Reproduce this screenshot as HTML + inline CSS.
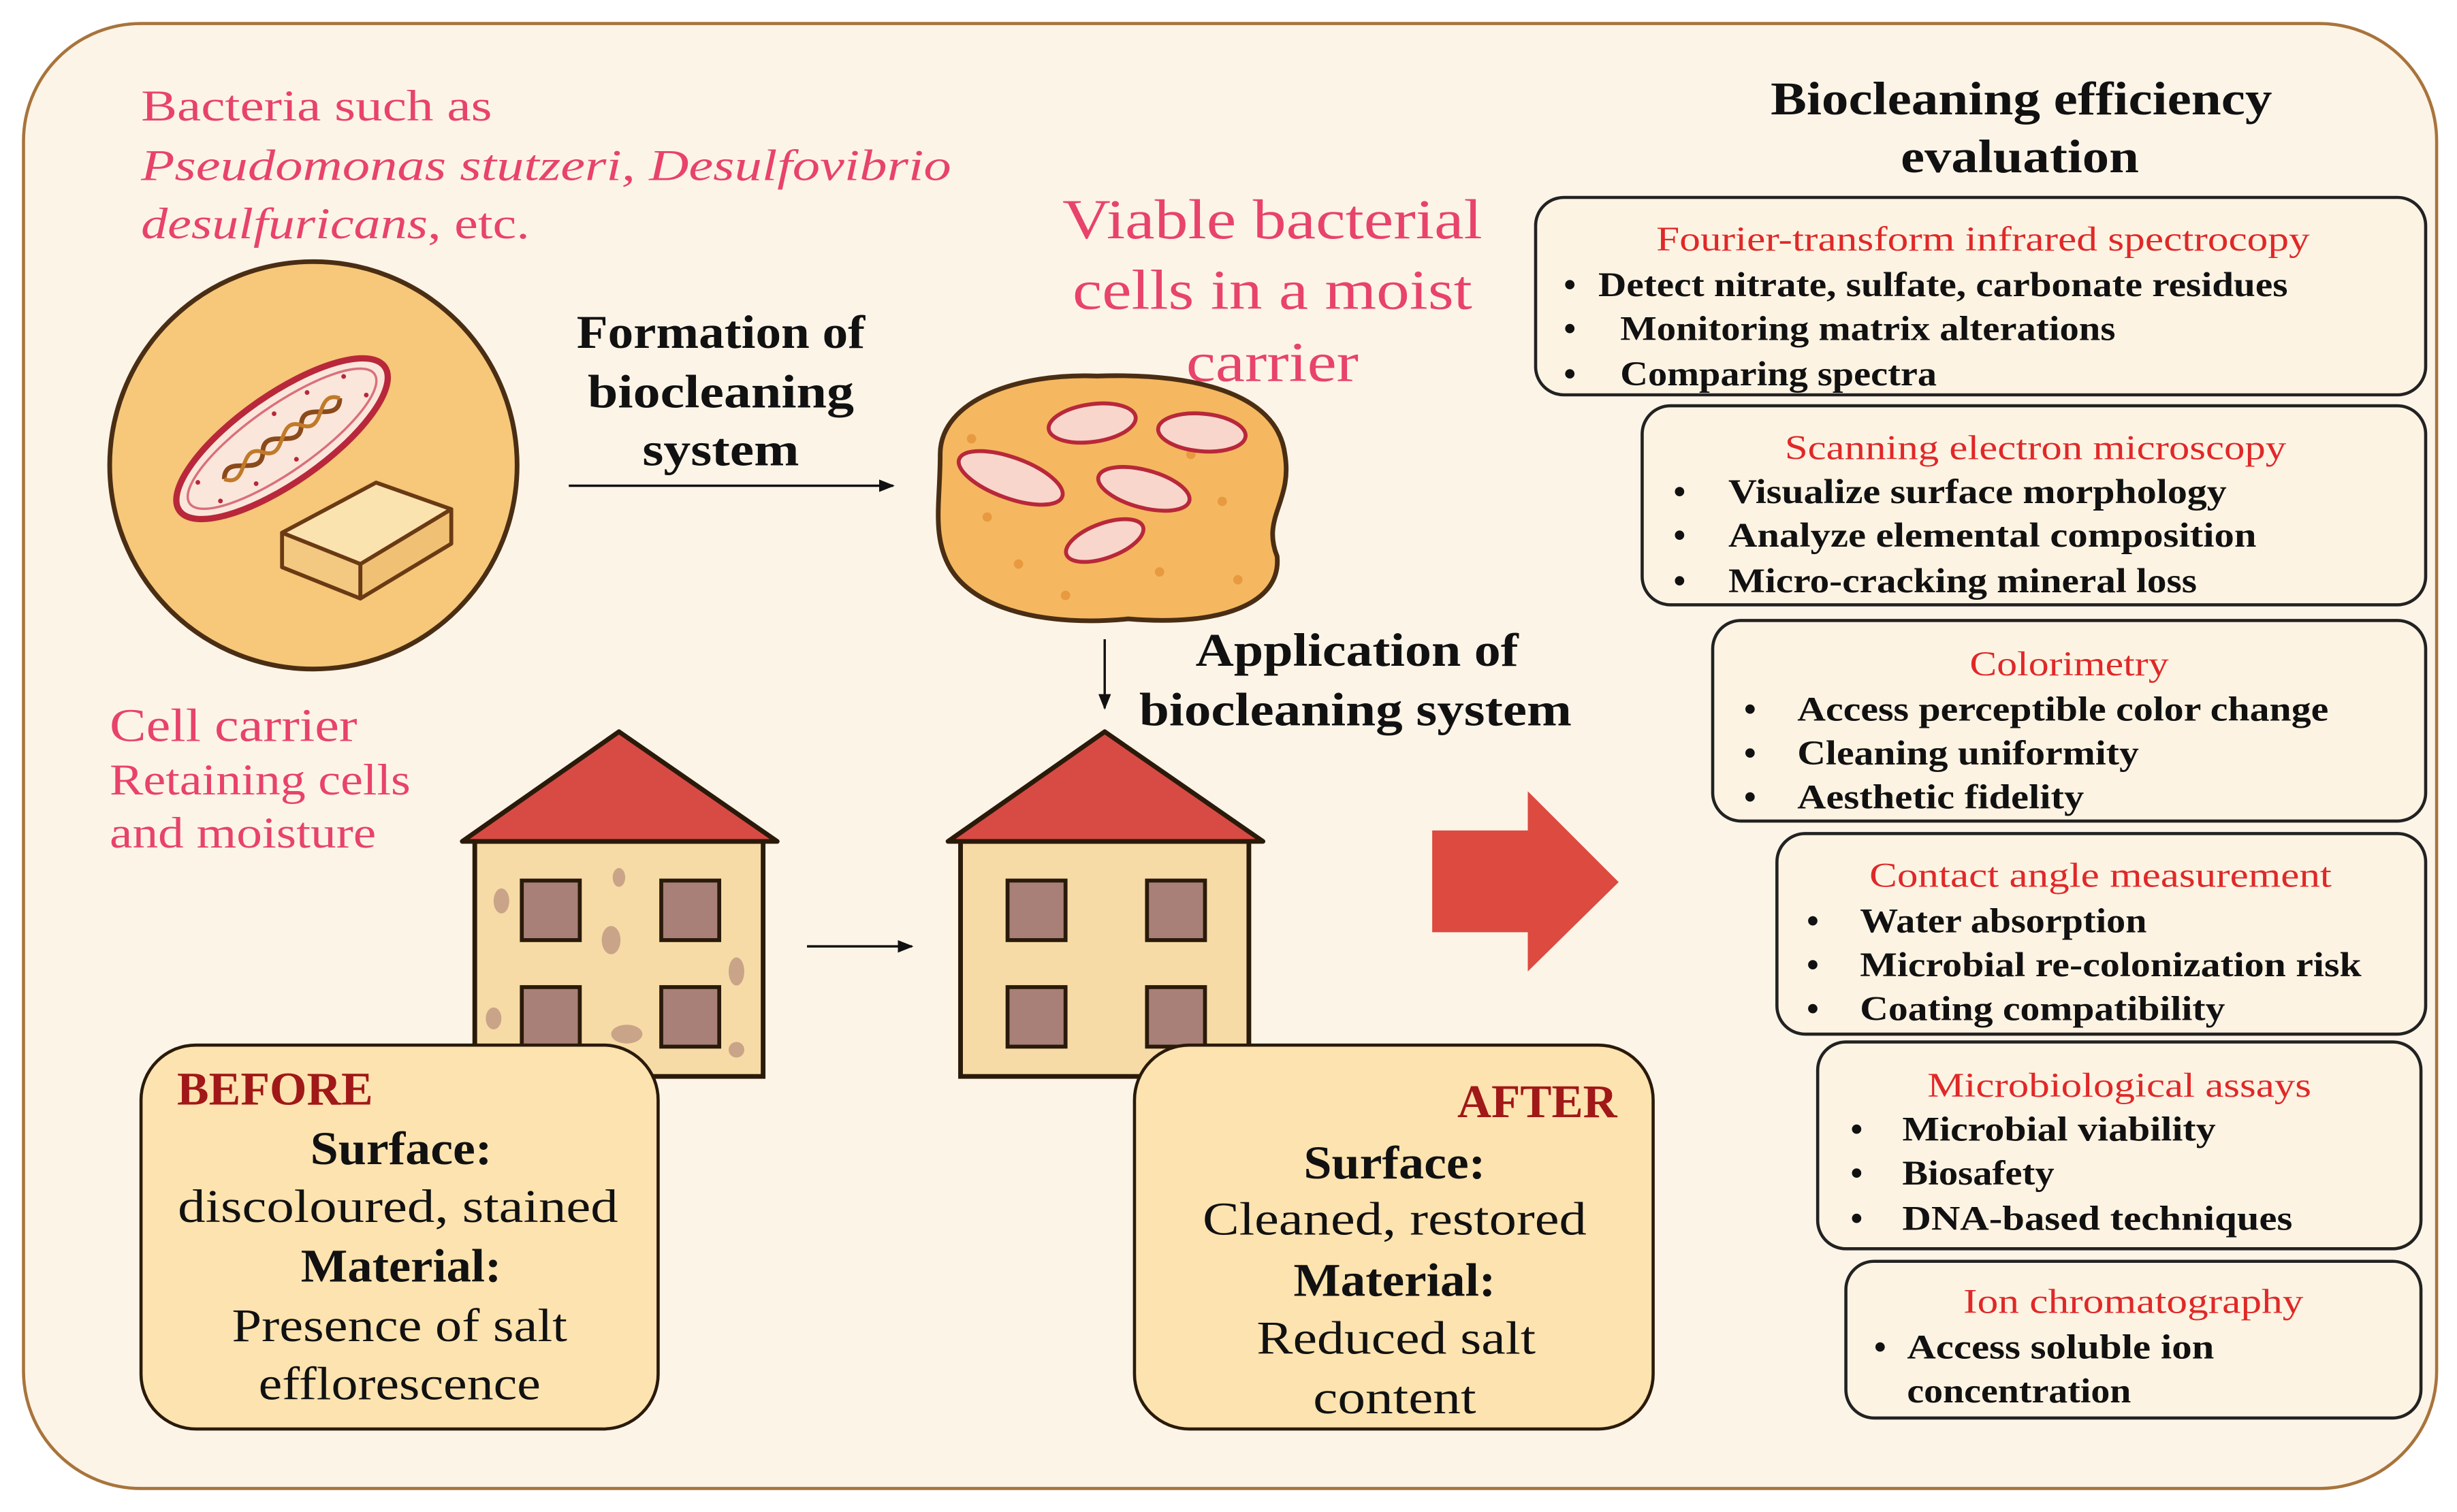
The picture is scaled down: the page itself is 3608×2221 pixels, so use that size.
<!DOCTYPE html>
<html><head><meta charset="utf-8"><style>
html,body{margin:0;padding:0;background:#fff;}
svg{display:block;}
text{font-family:"Liberation Serif","DejaVu Serif",serif;}
</style></head><body>
<svg width="3608" height="2221" viewBox="0 0 1568 965" preserveAspectRatio="none" xmlns="http://www.w3.org/2000/svg">
<defs>
<marker id="ah" markerWidth="10" markerHeight="10" refX="9" refY="5" orient="auto" markerUnits="userSpaceOnUse"><path d="M0,1 L10,5 L0,9 z" fill="#111"/></marker>
</defs>
<rect x="15" y="15" width="1540" height="935" rx="75" fill="#fdf4e8" stroke="#a8743c" stroke-width="2"/>

<g fill="#e8436a" font-size="28" lengthAdjust="spacingAndGlyphs">
<text x="90" y="77" textLength="224" lengthAdjust="spacingAndGlyphs">Bacteria such as</text>
<text x="90" y="115" font-style="italic" textLength="517" lengthAdjust="spacingAndGlyphs">Pseudomonas stutzeri, Desulfovibrio</text>
<text x="90" y="152" textLength="248" lengthAdjust="spacingAndGlyphs"><tspan font-style="italic">desulfuricans</tspan>, etc.</text>
</g>

<circle cx="200" cy="297" r="130" fill="#f7c77a" stroke="#4a2e14" stroke-width="3"/>
<g transform="translate(180,280) rotate(-35)">
<ellipse cx="0" cy="0" rx="80" ry="28" fill="#fbe6dc" stroke="#b8283a" stroke-width="4"/>
<ellipse cx="0" cy="0" rx="72" ry="21" fill="none" stroke="#d9707a" stroke-width="1.5"/>
<path d="M-45,0 C-35,-14 -25,14 -15,0 C-5,-14 5,14 15,0 C25,-14 35,14 45,0" fill="none" stroke="#8a4a1a" stroke-width="3"/>
<path d="M-45,0 C-35,14 -25,-14 -15,0 C-5,14 5,-14 15,0 C25,14 35,-14 45,0" fill="none" stroke="#c07a2a" stroke-width="2.5"/>
<g fill="#b8283a"><circle cx="-60" cy="-8" r="1.5"/><circle cx="-55" cy="10" r="1.5"/><circle cx="55" cy="-10" r="1.5"/><circle cx="60" cy="8" r="1.5"/><circle cx="-30" cy="14" r="1.5"/><circle cx="30" cy="-15" r="1.5"/><circle cx="0" cy="16" r="1.5"/><circle cx="5" cy="-16" r="1.5"/></g>
</g>
<g stroke="#6a3a14" stroke-width="2.5" stroke-linejoin="round">
<polygon points="180,340 240,308 288,325 230,360" fill="#fbe3b0"/>
<polygon points="180,340 230,360 230,382 180,362" fill="#f3c880"/>
<polygon points="230,360 288,325 288,347 230,382" fill="#f0c074"/>
</g>

<g font-size="30" text-anchor="middle" fill="#111" font-weight="bold">
<text x="460" y="222" textLength="184" lengthAdjust="spacingAndGlyphs">Formation of</text>
<text x="460" y="260" textLength="170" lengthAdjust="spacingAndGlyphs">biocleaning</text>
<text x="460" y="297" textLength="100" lengthAdjust="spacingAndGlyphs">system</text>
</g>
<line x1="363" y1="310" x2="570" y2="310" stroke="#111" stroke-width="1.5" marker-end="url(#ah)"/>

<g font-size="36" text-anchor="middle" fill="#e8436a">
<text x="812" y="152" textLength="268" lengthAdjust="spacingAndGlyphs">Viable bacterial</text>
<text x="812" y="197" textLength="255" lengthAdjust="spacingAndGlyphs">cells in a moist</text>
<text x="812" y="243" textLength="110" lengthAdjust="spacingAndGlyphs">carrier</text>
</g>

<path d="M600,290 C600,255 650,238 700,240 C760,238 815,250 820,290 C825,320 805,330 815,355 C818,385 780,400 720,395 C670,400 620,390 605,360 C595,340 600,320 600,290 Z" fill="#f5b860" stroke="#4a2e14" stroke-width="3"/>
<g fill="#e89a40"><circle cx="630" cy="330" r="3"/><circle cx="650" cy="360" r="3"/><circle cx="780" cy="320" r="3"/><circle cx="790" cy="370" r="3"/><circle cx="700" cy="265" r="3"/><circle cx="760" cy="290" r="3"/><circle cx="620" cy="280" r="3"/><circle cx="740" cy="365" r="3"/><circle cx="680" cy="380" r="3"/></g>
<g fill="#f8d6cc" stroke="#b8283a" stroke-width="2.5">
<ellipse cx="697" cy="270" rx="28" ry="12" transform="rotate(-8 697 270)"/>
<ellipse cx="767" cy="276" rx="28" ry="12" transform="rotate(5 767 276)"/>
<ellipse cx="645" cy="305" rx="35" ry="13" transform="rotate(20 645 305)"/>
<ellipse cx="730" cy="312" rx="30" ry="12" transform="rotate(15 730 312)"/>
<ellipse cx="705" cy="345" rx="26" ry="11" transform="rotate(-20 705 345)"/>
</g>
<line x1="705" y1="408" x2="705" y2="452" stroke="#111" stroke-width="1.5" marker-end="url(#ah)"/>
<g font-size="30" text-anchor="middle" fill="#111" font-weight="bold">
<text x="866" y="425" textLength="206" lengthAdjust="spacingAndGlyphs">Application of</text>
<text x="865" y="463" textLength="276" lengthAdjust="spacingAndGlyphs">biocleaning system</text>
</g>

<g fill="#e8436a">
<text x="70" y="473" font-size="30" textLength="158" lengthAdjust="spacingAndGlyphs">Cell carrier</text>
<text x="70" y="507" font-size="28" textLength="192" lengthAdjust="spacingAndGlyphs">Retaining cells</text>
<text x="70" y="541" font-size="28" textLength="170" lengthAdjust="spacingAndGlyphs">and moisture</text>
</g>

<rect x="303" y="537" width="184" height="150" fill="#f7dba6" stroke="#2a1a0a" stroke-width="3"/>
<g fill="#c9a488"><ellipse cx="320" cy="575" rx="5" ry="8"/><ellipse cx="390" cy="600" rx="6" ry="9"/><ellipse cx="470" cy="620" rx="5" ry="9"/><ellipse cx="400" cy="660" rx="10" ry="6"/><ellipse cx="315" cy="650" rx="5" ry="7"/><ellipse cx="395" cy="560" rx="4" ry="6"/><ellipse cx="470" cy="670" rx="5" ry="5"/></g>
<polygon points="295,537 395,467 496,537" fill="#d84b45" stroke="#2a1a0a" stroke-width="3" stroke-linejoin="round"/>
<g fill="#a88078" stroke="#2a1a0a" stroke-width="2.5">
<rect x="333" y="562" width="37" height="38"/><rect x="422" y="562" width="37" height="38"/>
<rect x="333" y="630" width="37" height="38"/><rect x="422" y="630" width="37" height="38"/>
</g>
<line x1="515" y1="604" x2="582" y2="604" stroke="#111" stroke-width="1.5" marker-end="url(#ah)"/>
<rect x="613" y="537" width="184" height="150" fill="#f7dba6" stroke="#2a1a0a" stroke-width="3"/>
<polygon points="605,537 705,467 806,537" fill="#d84b45" stroke="#2a1a0a" stroke-width="3" stroke-linejoin="round"/>
<g fill="#a88078" stroke="#2a1a0a" stroke-width="2.5">
<rect x="643" y="562" width="37" height="38"/><rect x="732" y="562" width="37" height="38"/>
<rect x="643" y="630" width="37" height="38"/><rect x="732" y="630" width="37" height="38"/>
</g>
<polygon points="914,530 975,530 975,505 1033,563 975,620 975,595 914,595" fill="#dc4a40"/>

<rect x="90" y="667" width="330" height="245" rx="35" fill="#fde3b0" stroke="#2a1a0a" stroke-width="2"/>
<text x="113" y="705" font-size="30" font-weight="bold" fill="#a01818" textLength="125" lengthAdjust="spacingAndGlyphs">BEFORE</text>
<g font-size="30" text-anchor="middle" fill="#111">
<text x="256" y="743" font-weight="bold" textLength="116" lengthAdjust="spacingAndGlyphs">Surface:</text>
<text x="254" y="780" textLength="281" lengthAdjust="spacingAndGlyphs">discoloured, stained</text>
<text x="256" y="818" font-weight="bold" textLength="128" lengthAdjust="spacingAndGlyphs">Material:</text>
<text x="255" y="856" textLength="214" lengthAdjust="spacingAndGlyphs">Presence of salt</text>
<text x="255" y="893" textLength="180" lengthAdjust="spacingAndGlyphs">efflorescence</text>
</g>
<rect x="724" y="667" width="331" height="245" rx="35" fill="#fde3b0" stroke="#2a1a0a" stroke-width="2"/>
<text x="930" y="713" font-size="30" font-weight="bold" fill="#a01818" textLength="102" lengthAdjust="spacingAndGlyphs">AFTER</text>
<g font-size="30" text-anchor="middle" fill="#111">
<text x="890" y="752" font-weight="bold" textLength="116" lengthAdjust="spacingAndGlyphs">Surface:</text>
<text x="890" y="788" textLength="245" lengthAdjust="spacingAndGlyphs">Cleaned, restored</text>
<text x="890" y="827" font-weight="bold" textLength="129" lengthAdjust="spacingAndGlyphs">Material:</text>
<text x="891" y="864" textLength="178" lengthAdjust="spacingAndGlyphs">Reduced salt</text>
<text x="890" y="902" textLength="104" lengthAdjust="spacingAndGlyphs">content</text>
</g>

<g font-size="30" text-anchor="middle" fill="#111" font-weight="bold">
<text x="1290" y="73" textLength="320" lengthAdjust="spacingAndGlyphs">Biocleaning efficiency</text>
<text x="1289" y="110" textLength="152" lengthAdjust="spacingAndGlyphs">evaluation</text>
</g>
<g fill="#fdf3e3" stroke="#222" stroke-width="2">
<rect x="980" y="126" width="568" height="126" rx="18"/>
<rect x="1048" y="259" width="500" height="127" rx="18"/>
<rect x="1093" y="396" width="455" height="128" rx="18"/>
<rect x="1134" y="532" width="414" height="128" rx="18"/>
<rect x="1160" y="665" width="385" height="132" rx="18"/>
<rect x="1178" y="805" width="367" height="100" rx="18"/>
</g>
<g font-size="22" fill="#e02828">
<text x="1057" y="160" textLength="417" lengthAdjust="spacingAndGlyphs">Fourier-transform infrared spectrocopy</text>
<text x="1139" y="293" textLength="320" lengthAdjust="spacingAndGlyphs">Scanning electron microscopy</text>
<text x="1257" y="431" textLength="127" lengthAdjust="spacingAndGlyphs">Colorimetry</text>
<text x="1193" y="566" textLength="295" lengthAdjust="spacingAndGlyphs">Contact angle measurement</text>
<text x="1230" y="700" textLength="245" lengthAdjust="spacingAndGlyphs">Microbiological assays</text>
<text x="1253" y="838" textLength="217" lengthAdjust="spacingAndGlyphs">Ion chromatography</text>
</g>
<g font-size="22" fill="#111" font-weight="bold">
<text x="998" y="189">•</text><text x="1020" y="189" textLength="440" lengthAdjust="spacingAndGlyphs">Detect nitrate, sulfate, carbonate residues</text>
<text x="998" y="217">•</text><text x="1034" y="217" textLength="316" lengthAdjust="spacingAndGlyphs">Monitoring matrix alterations</text>
<text x="998" y="246">•</text><text x="1034" y="246" textLength="202" lengthAdjust="spacingAndGlyphs">Comparing spectra</text>
<text x="1068" y="321">•</text><text x="1103" y="321" textLength="318" lengthAdjust="spacingAndGlyphs">Visualize surface morphology</text>
<text x="1068" y="349">•</text><text x="1103" y="349" textLength="337" lengthAdjust="spacingAndGlyphs">Analyze elemental composition</text>
<text x="1068" y="378">•</text><text x="1103" y="378" textLength="299" lengthAdjust="spacingAndGlyphs">Micro-cracking mineral loss</text>
<text x="1113" y="460">•</text><text x="1147" y="460" textLength="339" lengthAdjust="spacingAndGlyphs">Access perceptible color change</text>
<text x="1113" y="488">•</text><text x="1147" y="488" textLength="218" lengthAdjust="spacingAndGlyphs">Cleaning uniformity</text>
<text x="1113" y="516">•</text><text x="1147" y="516" textLength="183" lengthAdjust="spacingAndGlyphs">Aesthetic fidelity</text>
<text x="1153" y="595">•</text><text x="1187" y="595" textLength="183" lengthAdjust="spacingAndGlyphs">Water absorption</text>
<text x="1153" y="623">•</text><text x="1187" y="623" textLength="320" lengthAdjust="spacingAndGlyphs">Microbial re-colonization risk</text>
<text x="1153" y="651">•</text><text x="1187" y="651" textLength="233" lengthAdjust="spacingAndGlyphs">Coating compatibility</text>
<text x="1181" y="728">•</text><text x="1214" y="728" textLength="200" lengthAdjust="spacingAndGlyphs">Microbial viability</text>
<text x="1181" y="756">•</text><text x="1214" y="756" textLength="97" lengthAdjust="spacingAndGlyphs">Biosafety</text>
<text x="1181" y="785">•</text><text x="1214" y="785" textLength="249" lengthAdjust="spacingAndGlyphs">DNA-based techniques</text>
<text x="1196" y="867">•</text><text x="1217" y="867" textLength="196" lengthAdjust="spacingAndGlyphs">Access soluble ion</text>
<text x="1217" y="895" textLength="143" lengthAdjust="spacingAndGlyphs">concentration</text>
</g>
</svg>
</body></html>
